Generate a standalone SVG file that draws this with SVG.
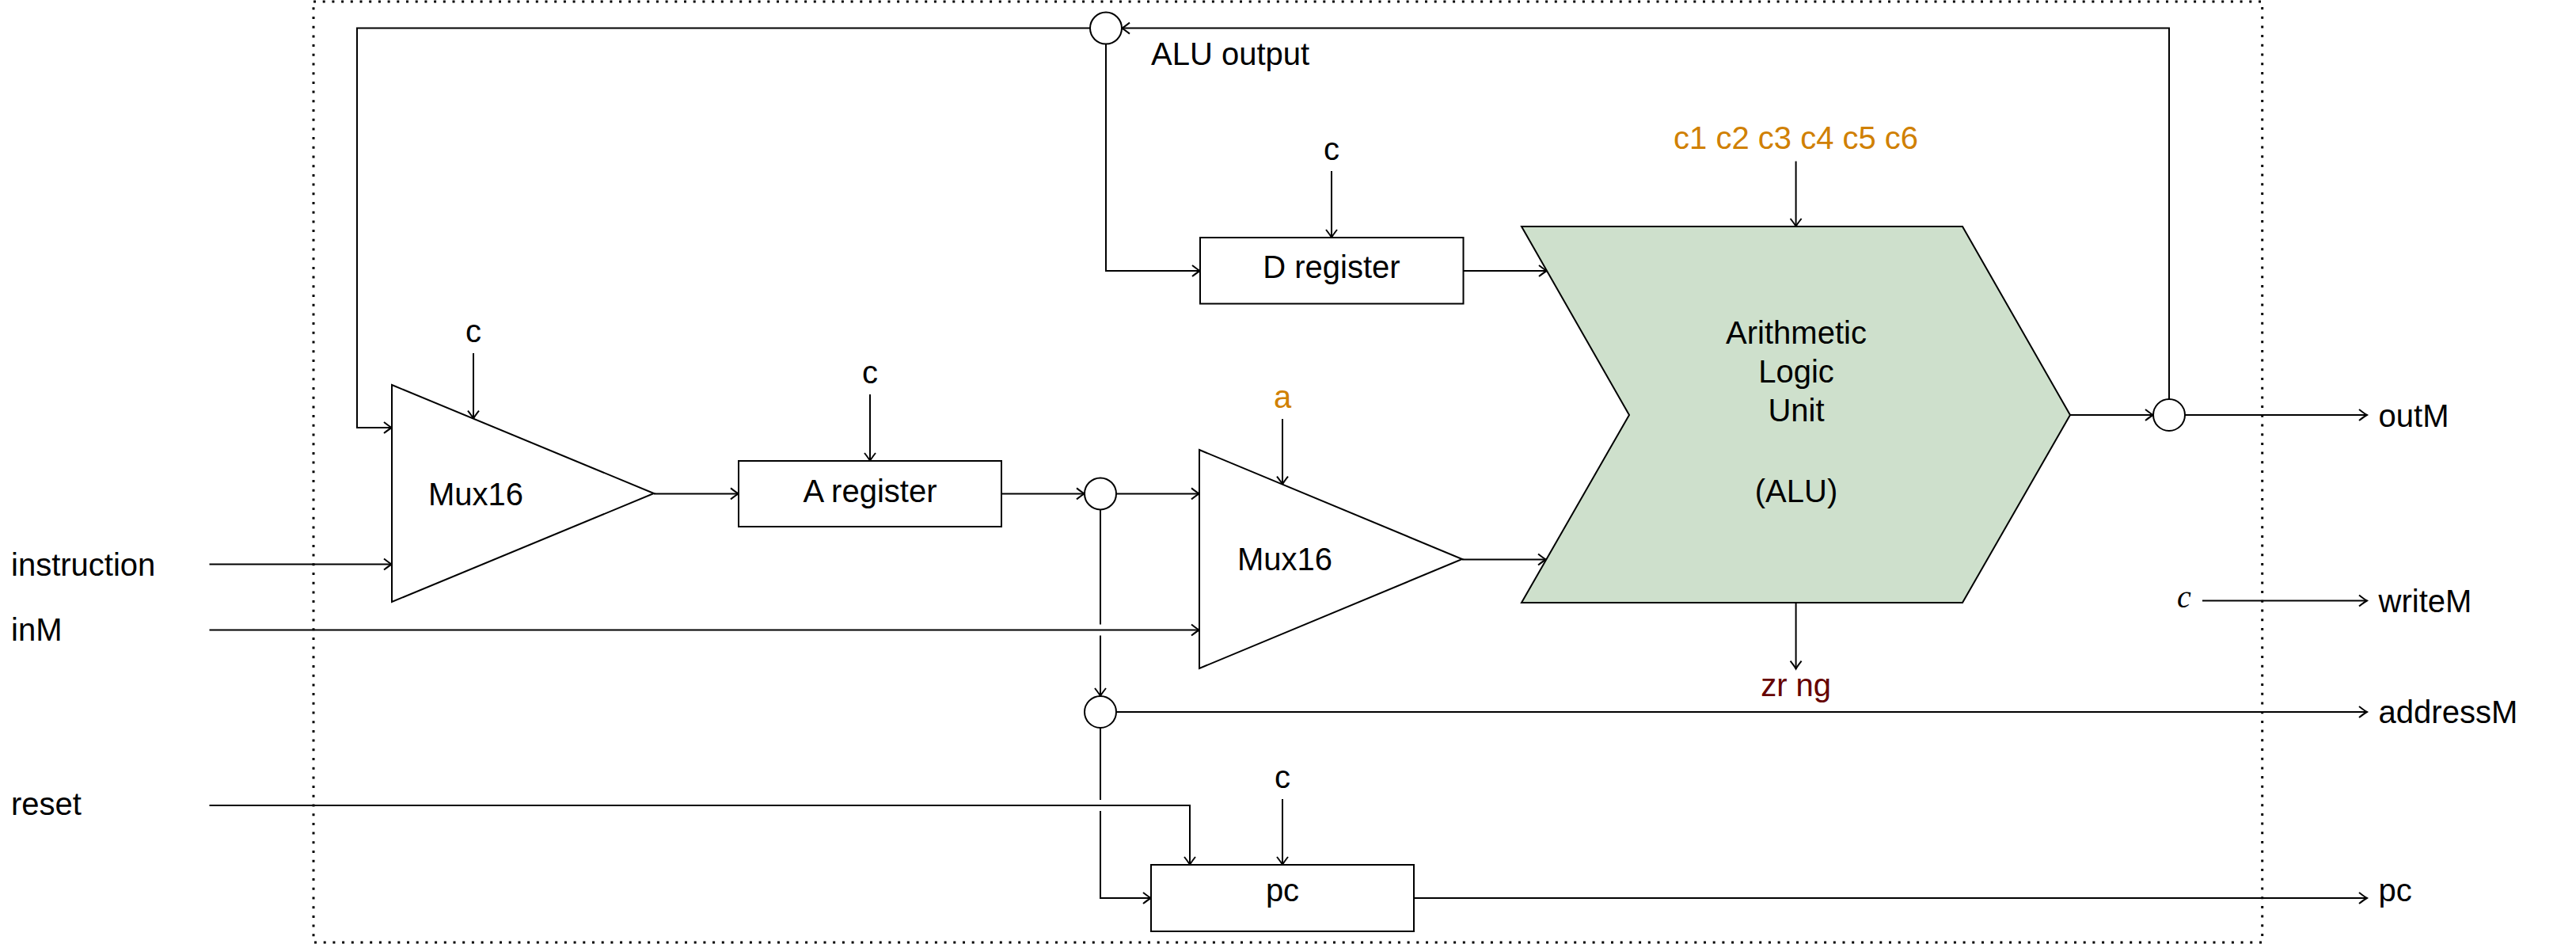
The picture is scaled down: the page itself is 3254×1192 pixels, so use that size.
<svg xmlns="http://www.w3.org/2000/svg" width="3254" height="1192" viewBox="0 0 3254 1192">
<style>
  .t { font-family: "Liberation Sans", Arial, sans-serif; font-size: 40px; fill: #000; }
  .m { text-anchor: middle; }
  .or { fill: #D08000; }
  .dr { fill: #660000; }
  .shape { fill: #fff; stroke: #000; stroke-width: 2; }
  .alu { fill: #CEE0CC; stroke: #000; stroke-width: 2; }
  .w { fill: none; stroke: #000; stroke-width: 2; }
  .a { marker-end: url(#arr); }
  .border { fill: none; stroke: #000; stroke-width: 3; stroke-dasharray: 3 8.7; }
</style>
<defs>
  <marker id="arr" viewBox="-12 -9 14 18" refX="0" refY="0" markerWidth="14" markerHeight="18" markerUnits="userSpaceOnUse" orient="auto">
    <path d="M-10,-7 Q-3,-1.5 0,0 Q-3,1.5 -10,7" fill="none" stroke="#000" stroke-width="2"/>
  </marker>
</defs>
<rect width="3254" height="1192" fill="#fff"/>
<rect id="frame" class="border" x="396" y="2" width="2461.7" height="1188"/>

<g id="connectors">
  <path class="w a" d="M2615,524 H2720"/>
  <path class="w a" d="M2760,524 H2990"/>
  <path class="w a" d="M2740,504 V35.6 H1417"/>
  <path class="w a" d="M1377,35.6 H451 V540 H495"/>
  <path class="w a" d="M1397,55.6 V342 H1516"/>
  <path class="w a" d="M1848.5,342 H1954"/>
  <path class="w a" d="M1682,216 V300"/>
  <path class="w a" d="M2268.6,203.6 V286"/>
  <path class="w a" d="M598,446 V528.6"/>
  <path class="w a" d="M264.5,712.5 H495"/>
  <path class="w a" d="M826,623.4 H933"/>
  <path class="w a" d="M1099,498 V582"/>
  <path class="w a" d="M1265,623.4 H1370"/>
  <path class="w a" d="M1410,623.4 H1515"/>
  <path class="w a" d="M1620,529 V611.6"/>
  <path class="w a" d="M264.5,795.5 H1515"/>
  <path class="w a" d="M1847,706.5 H1953"/>
  <path class="w" d="M1390,643.4 V788.5"/>
  <path class="w a" d="M1390,802.5 V879"/>
  <path class="w a" d="M1410,899 H2990"/>
  <path class="w" d="M1390,919 V1010"/>
  <path class="w a" d="M1390,1024 V1134 H1454"/>
  <path class="w a" d="M264.5,1017 H1503 V1092"/>
  <path class="w a" d="M1620,1009 V1092"/>
  <path class="w a" d="M1786,1134 H2990"/>
  <path class="w a" d="M2782,758.5 H2990"/>
  <path class="w a" d="M2268.6,761 V844.6"/>
</g>

<g id="mux1">
  <polygon class="shape" points="495,486 826,623 495,760"/>
  <text class="t" x="541" y="638">Mux16</text>
</g>
<g id="aregister">
  <rect class="shape" x="933" y="582" width="332" height="83"/>
  <text class="t m" x="1099" y="634">A register</text>
</g>
<g id="dregister">
  <rect class="shape" x="1516" y="300" width="332.5" height="83.5"/>
  <text class="t m" x="1682" y="351">D register</text>
</g>
<g id="mux2">
  <polygon class="shape" points="1515,568 1847,706 1515,844"/>
  <text class="t" x="1563" y="720">Mux16</text>
</g>
<g id="alu">
  <polygon class="alu" points="1922,286 2479,286 2615,524 2479,761 1922,761 2058,524"/>
  <text class="t m" x="2269" y="434">Arithmetic</text>
  <text class="t m" x="2269" y="483">Logic</text>
  <text class="t m" x="2269" y="532">Unit</text>
  <text class="t m" x="2269" y="634">(ALU)</text>
</g>
<g id="pcreg">
  <rect class="shape" x="1454" y="1092" width="332" height="84"/>
  <text class="t m" x="1620" y="1138">pc</text>
</g>
<g id="junction-aluout">
  <circle class="shape" cx="1397" cy="35.6" r="20"/>
  <text class="t" x="1454" y="82">ALU output</text>
</g>
<g id="junction-out">
  <circle class="shape" cx="2740" cy="524" r="20"/>
</g>
<g id="junction-a">
  <circle class="shape" cx="1390" cy="623.4" r="20"/>
</g>
<g id="junction-addr">
  <circle class="shape" cx="1390" cy="899" r="20"/>
</g>

<g id="labels">
  <text class="t m" x="598" y="432">c</text>
  <text class="t m" x="1099" y="484">c</text>
  <text class="t m" x="1682" y="202">c</text>
  <text class="t m" x="1620" y="994.5">c</text>
  <text class="t m or" x="1620" y="515">a</text>
  <text class="t m or" x="2268.6" y="187.5">c1 c2 c3 c4 c5 c6</text>
  <text class="t m dr" x="2268.6" y="879">zr ng</text>
  <text x="2750" y="767" style="font-family:'Liberation Serif','Times New Roman',serif;font-style:italic;font-size:40px">c</text>
</g>
<g id="inputs">
  <text class="t" x="14" y="726.5">instruction</text>
  <text class="t" x="14" y="809">inM</text>
  <text class="t" x="14" y="1028.5">reset</text>
</g>
<g id="outputs">
  <text class="t" x="3004.6" y="539">outM</text>
  <text class="t" x="3004.6" y="773">writeM</text>
  <text class="t" x="3004.6" y="913">addressM</text>
  <text class="t" x="3004.6" y="1138">pc</text>
</g>
</svg>
